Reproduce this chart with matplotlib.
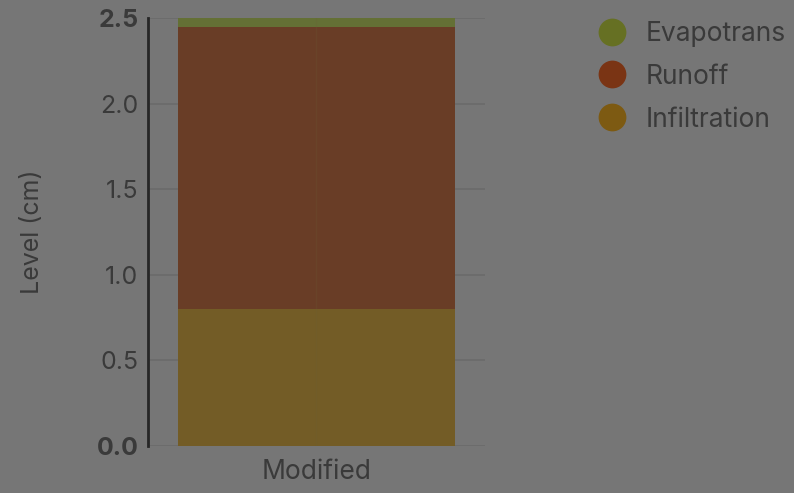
import matplotlib
matplotlib.use("Agg")
import matplotlib.pyplot as plt
from matplotlib.lines import Line2D

plt.rcParams['font.family'] = ['Inter', 'DejaVu Sans']

categories = ["Modified"]
infiltration = [0.80]
runoff = [1.65]
evapotrans = [0.05]

series_names = ["Evapotrans", "Runoff", "Infiltration"]
bar_colors = {"Infiltration": "#735c26", "Runoff": "#693d26", "Evapotrans": "#647035"}
legend_colors = {"Infiltration": "#7d5a12", "Runoff": "#7a3414", "Evapotrans": "#667023"}

bg = "#767676"
txt = "#3a3a3a"

fig = plt.figure(figsize=(7.94, 4.93), dpi=100, facecolor=bg)
ax = fig.add_axes([0.1864, 0.0953, 0.4244, 0.8682], facecolor=bg)

x = list(range(len(categories)))
bottom = [0.0] * len(categories)
for name, vals in [("Infiltration", infiltration), ("Runoff", runoff), ("Evapotrans", evapotrans)]:
    ax.bar(x, vals, width=0.82, bottom=bottom, color=bar_colors[name], zorder=2, linewidth=0)
    bottom = [b + v for b, v in zip(bottom, vals)]

ax.set_xlim(-0.5, 0.5)
ax.set_ylim(0, 2.5)
yticks = [0.0, 0.5, 1.0, 1.5, 2.0, 2.5]
ax.set_yticks(yticks)
ax.set_yticklabels([f"{t:.1f}" for t in yticks])
for lbl, t in zip(ax.get_yticklabels(), yticks):
    if t in (0.0, 2.5):
        lbl.set_fontweight("bold")
ax.set_xticks(x)
ax.set_xticklabels(categories)
ax.tick_params(axis='both', length=0, colors=txt, labelsize=18)
ax.tick_params(axis='y', pad=7)
ax.tick_params(axis='x', labelsize=19, pad=9)

for t in yticks:
    ax.axhline(t, color="#6b6b6b", linewidth=1.2, zorder=1)
ax.axvline(0, color="#6d5f3a", linewidth=1, alpha=0.2, zorder=3)

for s in ["top", "right", "bottom"]:
    ax.spines[s].set_visible(False)
ax.spines["left"].set_color("#262626")
ax.spines["left"].set_linewidth(2)

ax.set_ylabel("Level (cm)", color=txt, fontsize=18, labelpad=38)

handles = [Line2D([0], [0], marker='o', linestyle='none', markersize=20,
                  markerfacecolor=legend_colors[n], markeredgewidth=0, label=n)
           for n in series_names]
fig.legend(handles=handles, loc="upper left", bbox_to_anchor=(0.717, 0.99),
           frameon=False, fontsize=19, labelcolor=txt, handletextpad=0.3,
           labelspacing=0.64, borderaxespad=0.2)

fig.savefig("out.png", dpi=100, facecolor=bg)
